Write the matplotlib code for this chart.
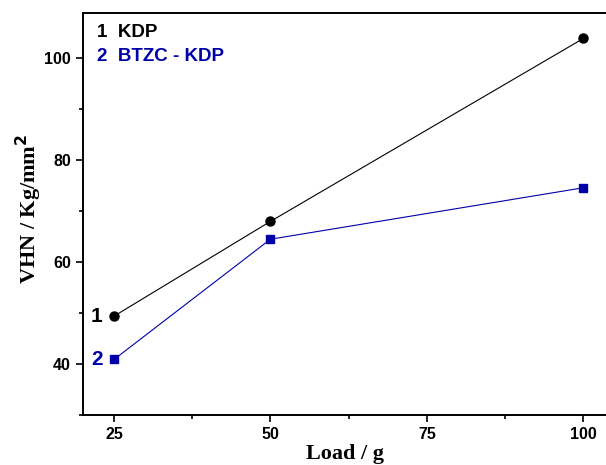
import numpy as np
import matplotlib
matplotlib.use("Agg")
import matplotlib.pyplot as plt
from matplotlib.ticker import MultipleLocator

# Data
load = [25, 50, 100]
vhn_kdp = [49.4, 68.0, 103.9]
vhn_btzc = [40.9, 64.5, 74.6]

blue = "#0000a8"

fig = plt.figure(figsize=(6.06, 4.65), dpi=100)
ax = fig.add_axes([0.1365, 0.1075, 0.89, 0.8645])

ax.plot(load, vhn_kdp, color="k", lw=0.8, marker="o", ms=6.5)
ax.plot(load, vhn_btzc, color=blue, lw=0.8, marker="s", ms=5.5)

# Curve numbers next to first points
ax.text(23.2, vhn_kdp[0], "1", color="k", fontsize=15, fontweight="bold",
        family="Liberation Sans", ha="right", va="center")
ax.text(23.2, vhn_btzc[0], "2", color=blue, fontsize=15, fontweight="bold",
        family="Liberation Sans", ha="right", va="center")

# Legend-like text
ax.text(0.027, 0.972, "1  KDP", transform=ax.transAxes, color="k", fontsize=13.5,
        fontweight="bold", family="Liberation Sans", va="top")
ax.text(0.027, 0.912, "2  BTZC - KDP", transform=ax.transAxes, color=blue, fontsize=13.5,
        fontweight="bold", family="Liberation Sans", va="top")

ax.set_xlim(20, 106.2)
ax.set_ylim(30, 108.9)
ax.xaxis.set_major_locator(MultipleLocator(25))
ax.xaxis.set_minor_locator(MultipleLocator(12.5))
ax.yaxis.set_major_locator(MultipleLocator(20))
ax.yaxis.set_minor_locator(MultipleLocator(10))

ax.tick_params(which="major", direction="out", length=5, width=1.2)
ax.tick_params(which="minor", direction="out", length=3, width=1.2)
for lab in ax.get_xticklabels() + ax.get_yticklabels():
    lab.set_family("Liberation Sans")
    lab.set_fontweight("bold")
    lab.set_fontsize(11.5)
for s in ax.spines.values():
    s.set_linewidth(1.4)

ax.set_xlabel("Load / g", family="Liberation Serif", fontweight="bold", fontsize=16)
ax.set_ylabel("VHN / Kg/mm$^\\mathbf{2}$", family="Liberation Serif", fontweight="bold",
              fontsize=16)
ax.xaxis.set_label_coords(0.486, -0.072)
ax.yaxis.set_label_coords(-0.099, 0.512)
ax.yaxis.label.set_va("center")

fig.savefig("out.png", dpi=100)
